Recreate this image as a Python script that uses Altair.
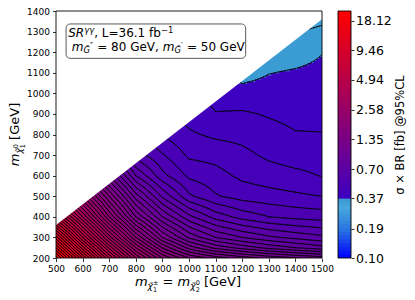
import numpy as np
import pandas as pd
import altair as alt

# ---------------- values ----------------
M_CHARGINO = [500, 600, 700, 800, 900, 1000, 1100, 1200, 1300, 1400, 1500]          # x grid, GeV
M_NEUTRALINO = [200, 250, 300, 400, 500, 600, 700, 800, 900, 1000, 1100, 1200, 1300, 1400]  # y grid, GeV
# sigma x BR upper limit [fb]; rows follow M_NEUTRALINO, columns follow M_CHARGINO
SIGMA_LIMIT = [
    [20.80, 10.26, 5.356, 3.033, 2.020, 1.583, 1.402, 1.292, 1.211, 1.153, 1.099],
    [15.40, 7.720, 4.096, 2.377, 1.571, 1.201, 1.029, 0.942, 0.875, 0.827, 0.787],
    [11.59, 5.809, 3.159, 1.862, 1.241, 0.957, 0.827, 0.762, 0.715, 0.686, 0.661],
    [6.301, 3.568, 2.020, 1.241, 0.897, 0.720, 0.627, 0.579, 0.551, 0.538, 0.531],
    [3.568, 2.377, 1.460, 0.934, 0.692, 0.560, 0.512, 0.491, 0.483, 0.475, 0.468],
    [None, 1.583, 1.055, 0.703, 0.565, 0.499, 0.482, 0.460, 0.449, 0.441, 0.430],
    [None, None, 0.762, 0.574, 0.512, 0.461, 0.455, 0.441, 0.425, 0.415, 0.415],
    [None, None, None, 0.508, 0.465, 0.437, 0.425, 0.421, 0.410, 0.400, 0.399],
    [None, None, None, None, 0.432, 0.418, 0.399, 0.402, 0.395, 0.389, 0.390],
    [None, None, None, None, None, 0.398, 0.389, 0.378, 0.380, 0.379, 0.382],
    [None, None, None, None, None, None, 0.373, 0.355, 0.366, 0.370, 0.374],
    [None, None, None, None, None, None, None, 0.344, 0.352, 0.355, 0.366],
    [None, None, None, None, None, None, None, None, 0.333, 0.338, 0.342],
    [None, None, None, None, None, None, None, None, None, 0.322, 0.330],
]
DELTA_M_MIN = 140                      # kinematic edge: m_chi0 = m_chipm - 140
X_TICKS = [500, 600, 700, 800, 900, 1000, 1100, 1200, 1300, 1400, 1500]
Y_TICKS = [200, 300, 400, 500, 600, 700, 800, 900, 1000, 1100, 1200, 1300, 1400]
CBAR_TICKS = [0.10, 0.19, 0.37, 0.70, 1.35, 2.58, 4.94, 9.46, 18.12]
CBAR_MAX = 22.36
LEVELS_PER_TICK = 8

# ---------------- contour levels & colour map ----------------
RATIO = (CBAR_TICKS[-1] / CBAR_TICKS[0]) ** (1.0 / (LEVELS_PER_TICK * (len(CBAR_TICKS) - 1)))
nlev = int(np.floor(np.log(CBAR_MAX / CBAR_TICKS[0]) / np.log(RATIO))) + 1
LEVELS = CBAR_TICKS[0] * RATIO ** np.arange(nlev)
EXCL = LEVELS[2 * LEVELS_PER_TICK]
cscale = alt.Scale(type="log",
                   domain=[0.10, 0.19, 0.30, EXCL, EXCL * 1.0001, CBAR_MAX],
                   range=["#0000ff", "#2b78df", "#47a6dd", "#389ad0", "#3c00c3", "#ff0000"],
                   interpolate="rgb")

# ---------------- contour rendering (bilinear in log sigma) ----------------
gx = np.array(M_CHARGINO, float)
gy = np.array(M_NEUTRALINO, float)
Z = np.array([[np.nan if v is None else np.log(v) for v in row] for row in SIGMA_LIMIT])


def interp(px, py):
    px = np.asarray(px, float)
    py = np.asarray(py, float)
    i = np.clip(np.searchsorted(gx, px, side="right") - 1, 0, len(gx) - 2)
    j = np.clip(np.searchsorted(gy, py, side="right") - 1, 0, len(gy) - 2)
    tx = (px - gx[i]) / (gx[i + 1] - gx[i])
    ty = (py - gy[j]) / (gy[j + 1] - gy[j])
    out = np.zeros_like(px)
    bad = np.zeros(px.shape, bool)
    for dj, di, w in [(0, 0, (1 - tx) * (1 - ty)), (0, 1, tx * (1 - ty)),
                      (1, 0, (1 - tx) * ty), (1, 1, tx * ty)]:
        zc = Z[j + dj, i + di]
        nan = np.isnan(zc)
        bad |= nan & (w > 1e-9)
        out += np.where(nan, 0.0, zc) * w
    out[bad] = np.nan
    return out


STEP = 10.0
FX = np.arange(gx[0], gx[-1] + 0.1, STEP)
FY = np.arange(gy[0], gy[-1] + 0.1, STEP)
lnL0 = np.log(LEVELS[0])
lnR = np.log(RATIO)

# filled bands
CX, CY = np.meshgrid(FX[:-1] + STEP / 2, FY[:-1] + STEP / 2)
ZC = interp(CX.ravel(), CY.ravel()).reshape(CX.shape)
inside = FY[:-1][:, None] < (FX[1:][None, :] - DELTA_M_MIN)
fill_rows = []
for j in range(ZC.shape[0]):
    i = 0
    while i < ZC.shape[1]:
        if not inside[j, i] or np.isnan(ZC[j, i]):
            i += 1
            continue
        band = int(np.floor((ZC[j, i] - lnL0) / lnR))
        k = i
        while (k + 1 < ZC.shape[1] and inside[j, k + 1] and not np.isnan(ZC[j, k + 1])
               and int(np.floor((ZC[j, k + 1] - lnL0) / lnR)) == band):
            k += 1
        fill_rows.append({"x0": FX[i] - 2, "x1": FX[k + 1] + 3, "y0": FY[j] - 3, "y1": FY[j + 1] + 4,
                          "v": float(LEVELS[0] * RATIO ** (band + 0.5))})
        i = k + 1
fill_df = pd.DataFrame(fill_rows)

# contour lines (marching triangles)
NX, NY = np.meshgrid(FX, FY)
ZN = interp(NX.ravel(), NY.ravel()).reshape(NX.shape)
tris_p, tris_v = [], []
for j in range(len(FY) - 1):
    for i in range(len(FX) - 1):
        if FY[j] >= FX[i + 1] - DELTA_M_MIN:
            continue
        c = [(j, i), (j, i + 1), (j + 1, i + 1), (j + 1, i)]
        vals = [ZN[a, b] for a, b in c]
        if any(np.isnan(vals)):
            continue
        pts = [(FX[b], FY[a]) for a, b in c]
        for t in [(0, 1, 2), (0, 2, 3)]:
            tris_p.append([pts[t[0]], pts[t[1]], pts[t[2]]])
            tris_v.append([vals[t[0]], vals[t[1]], vals[t[2]]])
P = np.array(tris_p)
V = np.array(tris_v)
segs = []
for lev in LEVELS:
    L = np.log(lev)
    above = V > L
    cnt = above.sum(1)
    m = (cnt == 1) | (cnt == 2)
    if not m.any():
        continue
    Pm, Vm, Am = P[m], V[m], above[m]
    cross = np.zeros((len(Pm), 3), bool)
    pts = np.zeros((len(Pm), 3, 2))
    for e, (a, b) in enumerate([(0, 1), (1, 2), (2, 0)]):
        cross[:, e] = Am[:, a] != Am[:, b]
        den = Vm[:, b] - Vm[:, a]
        den = np.where(den == 0, 1e-12, den)
        t = (L - Vm[:, a]) / den
        pts[:, e] = Pm[:, a] + t[:, None] * (Pm[:, b] - Pm[:, a])
    idx = np.argsort(~cross, axis=1, kind="stable")[:, :2]
    r = np.arange(len(Pm))
    p1 = pts[r, idx[:, 0]]
    p2 = pts[r, idx[:, 1]]
    keep = (p1[:, 1] < p1[:, 0] - DELTA_M_MIN + 1) | (p2[:, 1] < p2[:, 0] - DELTA_M_MIN + 1)
    for a, b in zip(p1[keep], p2[keep]):
        segs.append({"x": round(a[0], 2), "y": round(a[1], 2), "x2": round(b[0], 2), "y2": round(b[1], 2)})
seg_df = pd.DataFrame(segs)

mask_df = pd.DataFrame({"x": [gx[0], gx[-1]],
                        "y": [gx[0] - DELTA_M_MIN, gx[-1] - DELTA_M_MIN],
                        "y2": [gy[-1], gy[-1]]})

# ---------------- scales / axes ----------------
xsc = alt.Scale(domain=[X_TICKS[0], X_TICKS[-1]], nice=False, zero=False)
ysc = alt.Scale(domain=[Y_TICKS[0], Y_TICKS[-1]], nice=False, zero=False)
common_ax = dict(labelFontSize=9, labelColor="black", tickColor="black", tickSize=3.5,
                 tickWidth=0.8, domain=False, grid=False, title=None,
                 labelFlush=False, labelOverlap=False)
xaxis = alt.Axis(values=X_TICKS, format="d", labelPadding=3, **common_ax)
yaxis = alt.Axis(values=Y_TICKS, format="d", labelPadding=3, **common_ax)

W = 266
H = 247


def X(field=None, datum=None):
    if datum is not None:
        return alt.XDatum(datum, scale=xsc, axis=xaxis)
    return alt.X(field, scale=xsc, axis=xaxis, title=None)


def Y(field=None, datum=None):
    if datum is not None:
        return alt.YDatum(datum, scale=ysc, axis=yaxis)
    return alt.Y(field, scale=ysc, axis=yaxis, title=None)


fill = alt.Chart(fill_df).mark_rect(clip=True).encode(
    x=X("x0:Q"), x2="x1:Q", y=Y("y0:Q"), y2="y1:Q",
    color=alt.Color("v:Q", scale=cscale, legend=None),
)
lines = alt.Chart(seg_df).mark_rule(color="black", strokeWidth=0.75, strokeCap="round",
                                    clip=True).encode(
    x=X("x:Q"), y=Y("y:Q"), x2="x2:Q", y2="y2:Q")
mask = alt.Chart(mask_df).mark_area(color="white").encode(
    x=X("x:Q"), y=Y("y:Q"), y2="y2:Q")
one = pd.DataFrame({"a": [0]})
frame = alt.Chart(one).mark_rect(fillOpacity=0, stroke="black", strokeWidth=0.9).encode(
    x=X(datum=X_TICKS[0]), x2=alt.X2Datum(X_TICKS[-1]),
    y=Y(datum=Y_TICKS[0]), y2=alt.Y2Datum(Y_TICKS[-1]))
box = alt.Chart(one).mark_rect(fill="white", fillOpacity=0.85, stroke="#5a5a5a",
                               strokeWidth=1, cornerRadius=4).encode(
    x=X(datum=538), x2=alt.X2Datum(1213),
    y=Y(datum=1170), y2=alt.Y2Datum(1337))

# ---------------- mathtext-like labels ----------------
ADV = {" ": 0.318, ",": 0.318, ".": 0.318, "=": 0.838, "\u2212": 0.838, "\u00b1": 0.838,
       "L": 0.557, "f": 0.352, "b": 0.635, "G": 0.775, "e": 0.615, "V": 0.684, "[": 0.390,
       "]": 0.390, "S": 0.635, "R": 0.695, "m": 0.974, "\u03b3": 0.592, "\u03c7": 0.592,
       "\u2032": 0.275, "\u2033": 0.44, "\u0303": 0.0}


def tw(s, size):
    return sum(ADV.get(c, 0.636) for c in s) * size


def layout(groups):
    out, x = [], 0.0
    for g in groups:
        adv = 0.0
        for (t, size, italic, rise) in g:
            lead = len(t) - len(t.lstrip(" "))
            out.append((t.strip(" "), size, italic, x + tw(t[:lead], size), rise))
            adv = max(adv, tw(t, size))
        x += adv
    return out, x


def text_layers(groups, ax, ay, dx0, dy0, center=False, angle=0):
    pieces, width = layout(groups)
    start = dx0 - width / 2 if center else dx0
    res = []
    for (t, size, italic, x, rise) in pieces:
        kw = dict(text=t, fontSize=size, fontStyle="italic" if italic else "normal",
                  align="left", baseline="alphabetic", dx=start + x, dy=dy0 - rise,
                  color="black")
        if angle:
            kw["angle"] = angle
        res.append(alt.Chart(one).mark_text(**kw).encode(x=X(datum=ax), y=Y(datum=ay)))
    return res


T = "\u0303"
line1 = [[("SR", 12, True, 0)], [("\u03b3\u03b3", 8.4, True, 4.5)],
         [(", L=36.1 fb", 12, False, 0)], [("\u22121", 8.4, False, 4.8)]]
line2 = [[("m", 12, True, 0)], [("G" + T, 8.4, True, -2.5)], [("\u2033", 8, False, 1.5)],
         [(" = 80 GeV, ", 12, False, 0)],
         [("m", 12, True, 0)], [("G" + T, 8.4, True, -2.5)], [("\u2032", 8, False, 1.5)],
         [(" = 50 GeV", 12, False, 0)]]
xtitle = [[("m", 13, True, 0)], [("\u03c7" + T, 9.1, True, -3)],
          [("\u00b1", 6.5, False, 1.0), ("1", 6.5, False, -5.5)],
          [(" = ", 13, False, 0)],
          [("m", 13, True, 0)], [("\u03c7" + T, 9.1, True, -3)],
          [("0", 6.5, False, 1.0), ("2", 6.5, False, -5.5)],
          [(" [GeV]", 13, False, 0)]]
ytitle = [[("m", 13, True, 0)], [("\u03c7" + T, 9.1, True, -3)],
          [("0", 6.5, False, 1.0), ("1", 6.5, False, -5.5)],
          [(" [GeV]", 13, False, 0)]]

texts = []
texts += text_layers(line1, 546, 1272, 0, 0)
texts += text_layers(line2, 559, 1206, 0, 0)
texts += text_layers(xtitle, 1000, Y_TICKS[0], -1, 28, center=True)
texts += text_layers(ytitle, X_TICKS[0], 800, 0, -36.7, center=True, angle=270)

main = alt.layer(fill, lines, mask, frame, box, *texts).properties(width=W, height=H)

# ---------------- colour bar ----------------
bounds = list(LEVELS) + [CBAR_MAX]
cb_df = pd.DataFrame({"lo": bounds[:-1],
                      "hi": [b * 1.03 for b in bounds[1:]],
                      "mid": [np.sqrt(a * b) for a, b in zip(bounds[:-1], bounds[1:])]})
cb_scale = alt.Scale(type="log", domain=[CBAR_TICKS[0], CBAR_MAX], nice=False)
cb_axis = alt.Axis(orient="right", values=CBAR_TICKS, format=".2f", labelFontSize=12.5,
                   labelColor="black", tickColor="black", tickSize=3, tickWidth=0.8,
                   domain=False, grid=False, labelPadding=1.5, labelFlush=False,
                   labelOverlap=False, title="\u03c3 \u00d7 BR [fb] @95%CL",
                   titleFontSize=11.5, titleFontWeight="normal", titleColor="black",
                   titleAngle=270, titleBaseline="top", titlePadding=3.5)
cb = alt.Chart(cb_df).mark_rect(clip=True).encode(
    y=alt.Y("lo:Q", scale=cb_scale, axis=cb_axis), y2="hi:Q",
    color=alt.Color("mid:Q", scale=cscale, legend=None))
cb_frame = alt.Chart(one).mark_rect(fillOpacity=0, stroke="black", strokeWidth=0.9).encode(
    y=alt.YDatum(CBAR_TICKS[0], scale=cb_scale, axis=cb_axis), y2=alt.Y2Datum(CBAR_MAX))
cbar = alt.layer(cb, cb_frame).properties(width=13, height=H)

chart = alt.hconcat(main, cbar, spacing=16, bounds="flush").properties(
    padding={"left": 1, "top": -1, "right": 0, "bottom": 0}
).configure(font="DejaVu Sans").configure_view(strokeWidth=0)

chart.save("out.html", embed_options={"renderer": "svg", "actions": False})
